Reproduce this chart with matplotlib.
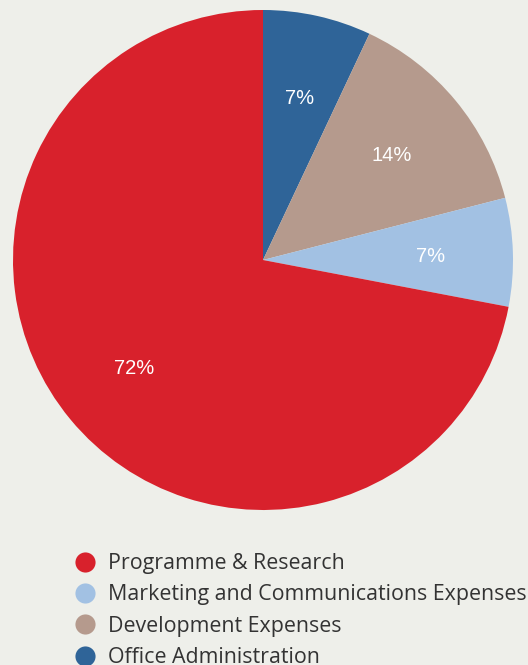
import matplotlib
matplotlib.use("Agg")
import matplotlib.pyplot as plt
from matplotlib.lines import Line2D

categories = ["Office Administration", "Development Expenses",
              "Marketing and Communications Expenses", "Programme & Research"]
values = [7, 14, 7, 72]
colors = ["#2f6498", "#b59a8d", "#a2c1e3", "#d8212c"]
legend_order = ["Programme & Research", "Marketing and Communications Expenses",
                "Development Expenses", "Office Administration"]

W, H = 528, 665
fig = plt.figure(figsize=(W / 100, H / 100), dpi=100)
fig.patch.set_facecolor("#eeefea")

# inner panel (pixels): x 13..518, y 12..515 ; pie centre (263,260) radius 250
x0, x1, y0, y1 = 13, 518, 12, 515
cx, cy, R = 263, 260, 250
ax = fig.add_axes([x0 / W, 1 - y1 / H, (x1 - x0) / W, (y1 - y0) / H])
ax.set_facecolor("#f1f2ed")
wedges, texts, autotexts = ax.pie(values, colors=colors, startangle=90, counterclock=False,
                                  autopct="%d%%", pctdistance=0.67,
                                  wedgeprops=dict(linewidth=0),
                                  textprops=dict(color="white", fontsize=14.5,
                                                 family="Liberation Sans"))
for t in autotexts:
    t.set_va("center_baseline")
ax.set_aspect("auto")
ax.set_xlim((x0 - cx) / R, (x1 - cx) / R)
ax.set_ylim(-(y1 - cy) / R, (cy - y0) / R)
for s in ax.spines.values():
    s.set_visible(False)
ax.set_xticks([]); ax.set_yticks([])

col = dict(zip(categories, colors))
handles = [Line2D([], [], marker="o", linestyle="", markersize=14.5,
                  markerfacecolor=col[c], markeredgewidth=0) for c in legend_order]
leg = fig.legend(handles, legend_order, loc="upper left",
                 bbox_to_anchor=(72 / W, 1 - 553 / H), frameon=False,
                 handletextpad=0.48, labelspacing=0.49,
                 borderpad=0, handlelength=1.2, borderaxespad=0,
                 prop=dict(family="Open Sans", size=15.4))
for t in leg.get_texts():
    t.set_color("#333333")

fig.savefig("out.png", dpi=100, facecolor=fig.get_facecolor())
